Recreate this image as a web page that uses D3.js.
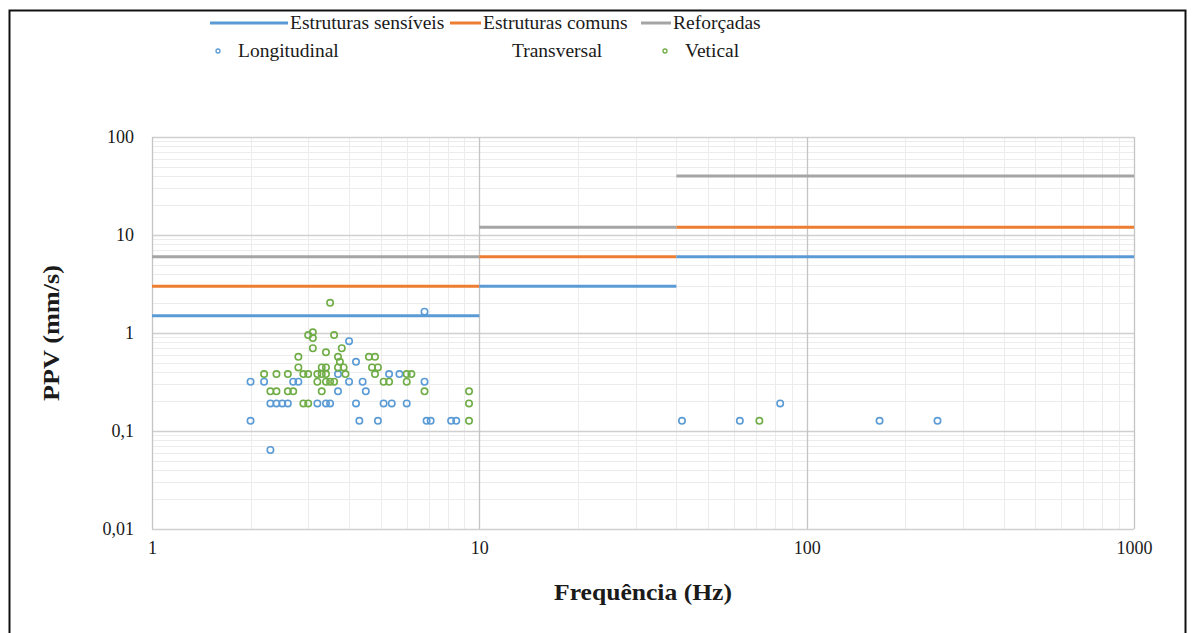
<!DOCTYPE html>
<html>
<head>
<meta charset="utf-8">
<script src="https://cdn.jsdelivr.net/npm/d3@7/dist/d3.min.js"></script>
<style>
  html, body { margin: 0; padding: 0; background: #fff; }
  svg { display: block; }
  text { font-family: "Liberation Serif", "Times New Roman", serif; fill: #1a1a1a; }
</style>
</head>
<body>
<svg id="chart" width="1192" height="633"></svg>
<script>
// Limit curves (PPV in mm/s) per frequency band
const bandStart = [1, 10, 40];
const bandEnd = [10, 40, 1000];
const sensiveis = [1.5, 3, 6];
const comuns = [3, 6, 12];
const reforcadas = [6, 12, 40];

// Measured peak particle velocities: [frequency Hz, PPV mm/s]
const longitudinal = [
  [2.0, 0.318], [2.0, 0.127], [2.3, 0.064], [2.2, 0.318], [2.7, 0.318], [2.8, 0.318],
  [2.3, 0.191], [2.4, 0.191], [2.5, 0.191], [2.6, 0.191], [3.2, 0.191], [3.4, 0.191],
  [3.5, 0.191], [3.7, 0.381], [3.7, 0.254], [4.0, 0.826], [4.0, 0.318], [4.2, 0.508],
  [4.2, 0.191], [4.3, 0.127], [4.4, 0.318], [4.5, 0.254], [4.9, 0.127], [5.1, 0.191],
  [5.3, 0.381], [5.7, 0.381], [5.4, 0.191], [6.0, 0.191], [6.8, 1.651], [6.8, 0.318],
  [6.9, 0.127], [7.1, 0.127], [8.2, 0.127], [8.5, 0.127],
  [41.6, 0.127], [62.5, 0.127], [83, 0.191], [167, 0.127], [251, 0.127]
];
const transversal = [];
const vetical = [
  [2.2, 0.381], [2.4, 0.381], [2.6, 0.381], [2.9, 0.381], [3.0, 0.381], [3.2, 0.381],
  [3.3, 0.381], [3.4, 0.381], [3.9, 0.381], [4.8, 0.381], [6.0, 0.381], [6.2, 0.381],
  [3.2, 0.318], [3.4, 0.318], [3.5, 0.318], [3.6, 0.318], [5.1, 0.318], [5.3, 0.318], [6.0, 0.318],
  [2.3, 0.254], [2.4, 0.254], [2.6, 0.254], [2.7, 0.254], [3.3, 0.254], [6.8, 0.254], [9.3, 0.254],
  [2.9, 0.191], [3.0, 0.191], [9.3, 0.191], [9.3, 0.127], [71.7, 0.127],
  [2.8, 0.445], [3.3, 0.445], [3.4, 0.445], [3.7, 0.445], [3.85, 0.445], [4.7, 0.445], [4.9, 0.445],
  [2.8, 0.572], [3.7, 0.572], [4.6, 0.572], [4.8, 0.572], [3.75, 0.508], [3.4, 0.635],
  [3.1, 0.699], [3.8, 0.699], [3.0, 0.953], [3.1, 1.016], [3.1, 0.889], [3.6, 0.953], [3.5, 2.032]
];

const xTicks = [1, 10, 100, 1000];
const xTickLabels = ["1", "10", "100", "1000"];
const yTicks = [0.01, 0.1, 1, 10, 100];
const yTickLabels = ["0,01", "0,1", "1", "10", "100"];

const svg = d3.select("#chart");

// Outer frame
svg.append("rect")
  .attr("x", 9.5).attr("y", 10.5).attr("width", 1176).attr("height", 640)
  .attr("fill", "none").attr("stroke", "#111").attr("stroke-width", 2);

const x = d3.scaleLog().domain([1, 1000]).range([152, 1134]);
const y = d3.scaleLog().domain([0.01, 100]).range([529, 137]);

const grid = svg.append("g");
const minorX = [], minorY = [];
for (let e = 0; e < 3; e++) for (let k = 2; k <= 9; k++) minorX.push(k * Math.pow(10, e));
for (let e = -2; e < 2; e++) for (let k = 2; k <= 9; k++) minorY.push(k * Math.pow(10, e));

grid.selectAll(".mx").data(minorX).enter().append("line")
  .attr("x1", d => Math.round(x(d)) + 0.5).attr("x2", d => Math.round(x(d)) + 0.5)
  .attr("y1", y(100)).attr("y2", y(0.01))
  .attr("stroke", "#ececec").attr("stroke-width", 1);
grid.selectAll(".my").data(minorY).enter().append("line")
  .attr("y1", d => Math.round(y(d)) + 0.5).attr("y2", d => Math.round(y(d)) + 0.5)
  .attr("x1", x(1)).attr("x2", x(1000))
  .attr("stroke", "#ececec").attr("stroke-width", 1);
grid.selectAll(".My").data(yTicks).enter().append("line")
  .attr("y1", d => Math.round(y(d)) + 0.5).attr("y2", d => Math.round(y(d)) + 0.5)
  .attr("x1", x(1)).attr("x2", x(1000))
  .attr("stroke", "#d0d0d0").attr("stroke-width", 1.3);
grid.selectAll(".Mx").data(xTicks).enter().append("line")
  .attr("x1", d => Math.round(x(d)) + 0.5).attr("x2", d => Math.round(x(d)) + 0.5)
  .attr("y1", y(100)).attr("y2", y(0.01))
  .attr("stroke", "#c4c4c4").attr("stroke-width", 1.3);

// Axes labels
const yAxis = d3.axisLeft(y).tickValues(yTicks)
  .tickFormat((d, i) => yTickLabels[i]).tickSize(0).tickPadding(18);
svg.append("g").attr("transform", `translate(${x(1)},0)`).call(yAxis)
  .call(g => g.select(".domain").remove())
  .call(g => g.selectAll("text").attr("font-size", 18)
    .attr("font-family", "Liberation Serif").attr("fill", "#1a1a1a"));

const xAxis = d3.axisBottom(x).tickValues(xTicks)
  .tickFormat((d, i) => xTickLabels[i]).tickSize(0).tickPadding(12);
svg.append("g").attr("transform", `translate(0,${y(0.01)})`).call(xAxis)
  .call(g => g.select(".domain").remove())
  .call(g => g.selectAll("text").attr("font-size", 18)
    .attr("font-family", "Liberation Serif").attr("fill", "#1a1a1a"));

svg.append("text")
  .attr("transform", `translate(59,${y(1)}) rotate(-90)`)
  .attr("text-anchor", "middle").attr("font-size", 23).attr("font-weight", "bold")
  .attr("textLength", 136).attr("lengthAdjust", "spacingAndGlyphs")
  .text("PPV (mm/s)");
svg.append("text")
  .attr("x", 643).attr("y", 600)
  .attr("text-anchor", "middle").attr("font-size", 23).attr("font-weight", "bold")
  .attr("textLength", 178).attr("lengthAdjust", "spacingAndGlyphs")
  .text("Frequência (Hz)");

// Limit segments
const limits = [
  { name: "Reforçadas", values: reforcadas, color: "#a5a5a5" },
  { name: "Estruturas comuns", values: comuns, color: "#ed7d31" },
  { name: "Estruturas sensíveis", values: sensiveis, color: "#5b9bd5" }
];
limits.forEach(s => {
  svg.append("g").selectAll("line").data(s.values).enter().append("line")
    .attr("x1", (d, i) => x(bandStart[i])).attr("x2", (d, i) => x(bandEnd[i]))
    .attr("y1", d => y(d)).attr("y2", d => y(d))
    .attr("stroke", s.color).attr("stroke-width", 3);
});

// Measurement points
const series = [
  { name: "Longitudinal", data: longitudinal, color: "#5b9bd5" },
  { name: "Transversal", data: transversal, color: "none" },
  { name: "Vetical", data: vetical, color: "#70ad47" }
];
series.forEach(s => {
  svg.append("g").selectAll("circle").data(s.data).enter().append("circle")
    .attr("cx", d => x(d[0])).attr("cy", d => y(d[1])).attr("r", 3.2)
    .attr("fill", "none").attr("stroke", s.color).attr("stroke-width", 1.6);
});

// Legend
const legend = svg.append("g").attr("font-size", 19.5);
const row1 = [
  { x: 210, w: 78, color: "#5b9bd5", label: "Estruturas sensíveis" },
  { x: 450, w: 31, color: "#ed7d31", label: "Estruturas comuns" },
  { x: 641, w: 30, color: "#a5a5a5", label: "Reforçadas" }
];
row1.forEach(r => {
  legend.append("line").attr("x1", r.x).attr("x2", r.x + r.w)
    .attr("y1", 23).attr("y2", 23).attr("stroke", r.color).attr("stroke-width", 3);
  legend.append("text").attr("x", r.x + r.w + 2).attr("y", 29).text(r.label);
});
const row2 = [
  { mx: 218, tx: 238, color: "#5b9bd5", label: "Longitudinal" },
  { mx: null, tx: 512, color: "none", label: "Transversal" },
  { mx: 665, tx: 685, color: "#70ad47", label: "Vetical" }
];
row2.forEach(r => {
  if (r.mx !== null) legend.append("circle").attr("cx", r.mx).attr("cy", 51).attr("r", 2)
    .attr("fill", "none").attr("stroke", r.color).attr("stroke-width", 1.3);
  legend.append("text").attr("x", r.tx).attr("y", 57).text(r.label);
});
</script>
</body>
</html>
